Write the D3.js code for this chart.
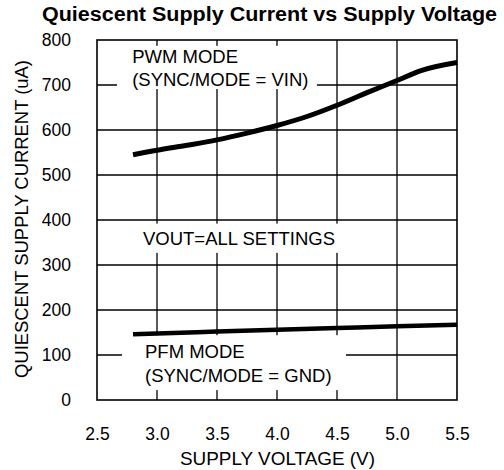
<!DOCTYPE html>
<html>
<head>
<meta charset="utf-8">
<script src="https://cdn.jsdelivr.net/npm/d3@7"></script>
<style>
  body { margin: 0; background: #fff; }
  text { font-family: "Liberation Sans", Arial, sans-serif; fill: #000; }
</style>
</head>
<body>
<svg width="504" height="470"></svg>
<script>
// supply voltage (V)
const pwmVolts = [2.8, 3.0, 3.25, 3.5, 3.75, 4.0, 4.25, 4.5, 4.75, 5.0, 5.2, 5.5];
// quiescent current (uA), PWM mode
const pwmCurrent = [545, 555, 566, 578, 593, 610, 630, 655, 683, 710, 732, 750];

const pfmVolts = [2.8, 3.0, 3.5, 4.0, 4.5, 5.0, 5.5];
// quiescent current (uA), PFM mode
const pfmCurrent = [146, 148, 152, 156, 160, 164, 167];

const xTicks = [2.5, 3.0, 3.5, 4.0, 4.5, 5.0, 5.5];
const yTicks = [0, 100, 200, 300, 400, 500, 600, 700, 800];

const margin = {
    top: 40,
    right: 47,
    left: 97,
    bottom: 70
};
const width = 504;
const height = 470;

const svg = d3.select('svg');

// x
const x = d3.scaleLinear()
    .domain([2.5, 5.5])
    .range([margin.left, width - margin.right]);

// y
const y = d3.scaleLinear()
    .domain([0, 800])
    .range([height - margin.bottom, margin.top]);

// grid
const grid = svg.append('g')
    .attr('stroke', '#000')
    .attr('stroke-width', 1.3);

grid.selectAll('.vg')
    .data(xTicks.slice(1, -1))
    .join('line')
    .attr('x1', d => x(d)).attr('x2', d => x(d))
    .attr('y1', y(0)).attr('y2', y(800));

grid.selectAll('.hg')
    .data(yTicks.slice(1, -1))
    .join('line')
    .attr('x1', x(2.5)).attr('x2', x(5.5))
    .attr('y1', d => y(d)).attr('y2', d => y(d));

// label backgrounds (hide grid behind annotations)
const boxes = [
    { x0: 2.667, x1: 4.333, y0: 691, y1: 787 },
    { x0: 2.858, x1: 4.567, y0: 327, y1: 392 },
    { x0: 2.708, x1: 4.575, y0: 22, y1: 144 }
];
svg.append('g').selectAll('rect')
    .data(boxes)
    .join('rect')
    .attr('x', d => x(d.x0))
    .attr('y', d => y(d.y1))
    .attr('width', d => x(d.x1) - x(d.x0))
    .attr('height', d => y(d.y0) - y(d.y1))
    .attr('fill', '#fff');

// frame
svg.append('rect')
    .attr('x', x(2.5))
    .attr('y', y(800))
    .attr('width', x(5.5) - x(2.5))
    .attr('height', y(0) - y(800))
    .attr('fill', 'none')
    .attr('stroke', '#000')
    .attr('stroke-width', 1.6);

// axes
const xAxis = d3.axisBottom(x)
    .tickValues(xTicks)
    .tickFormat(d3.format('.1f'))
    .tickSize(0)
    .tickPadding(28);

const yAxis = d3.axisLeft(y)
    .tickValues(yTicks)
    .tickFormat(d3.format('d'))
    .tickSize(0)
    .tickPadding(26);

svg.append('g')
    .attr('transform', `translate(0, ${y(0)})`)
    .call(xAxis)
    .call(g => g.select('.domain').remove())
    .selectAll('text')
    .attr('font-size', 17.5)
    .attr('font-family', '"Liberation Sans", Arial, sans-serif');

svg.append('g')
    .attr('transform', `translate(${x(2.5)}, 0)`)
    .call(yAxis)
    .call(g => g.select('.domain').remove())
    .selectAll('text')
    .attr('font-size', 17.5)
    .attr('font-family', '"Liberation Sans", Arial, sans-serif');

// curves
const line = d3.line()
    .x(d => x(d[0]))
    .y(d => y(d[1]))
    .curve(d3.curveMonotoneX);

svg.append('path')
    .datum(d3.zip(pwmVolts, pwmCurrent))
    .attr('fill', 'none')
    .attr('stroke', '#000')
    .attr('stroke-width', 5)
    .attr('d', line);

svg.append('path')
    .datum(d3.zip(pfmVolts, pfmCurrent))
    .attr('fill', 'none')
    .attr('stroke', '#000')
    .attr('stroke-width', 4.5)
    .attr('d', line);

// annotations
const note = (t, vx, vy) => svg.append('text')
    .attr('x', x(vx))
    .attr('y', y(vy))
    .attr('font-size', 18.5)
    .text(t);

note('PWM MODE', 2.793, 750);
note('(SYNC/MODE = VIN)', 2.793, 697);
note('VOUT=ALL SETTINGS', 2.883, 344);
note('PFM MODE', 2.9, 93);
note('(SYNC/MODE = GND)', 2.9, 40);

// titles
svg.append('text')
    .attr('x', 269.5)
    .attr('y', 21)
    .attr('text-anchor', 'middle')
    .attr('font-size', 19.5)
    .attr('font-weight', 'bold')
    .attr('textLength', 455)
    .attr('lengthAdjust', 'spacingAndGlyphs')
    .text('Quiescent Supply Current vs Supply Voltage');

svg.append('text')
    .attr('x', 277.5)
    .attr('y', 465)
    .attr('text-anchor', 'middle')
    .attr('font-size', 18.5)
    .attr('textLength', 195)
    .attr('lengthAdjust', 'spacingAndGlyphs')
    .text('SUPPLY VOLTAGE (V)');

svg.append('text')
    .attr('transform', `translate(28, 219) rotate(-90)`)
    .attr('text-anchor', 'middle')
    .attr('font-size', 17.5)
    .attr('textLength', 318)
    .attr('lengthAdjust', 'spacingAndGlyphs')
    .text('QUIESCENT SUPPLY CURRENT (uA)');
</script>
</body>
</html>
